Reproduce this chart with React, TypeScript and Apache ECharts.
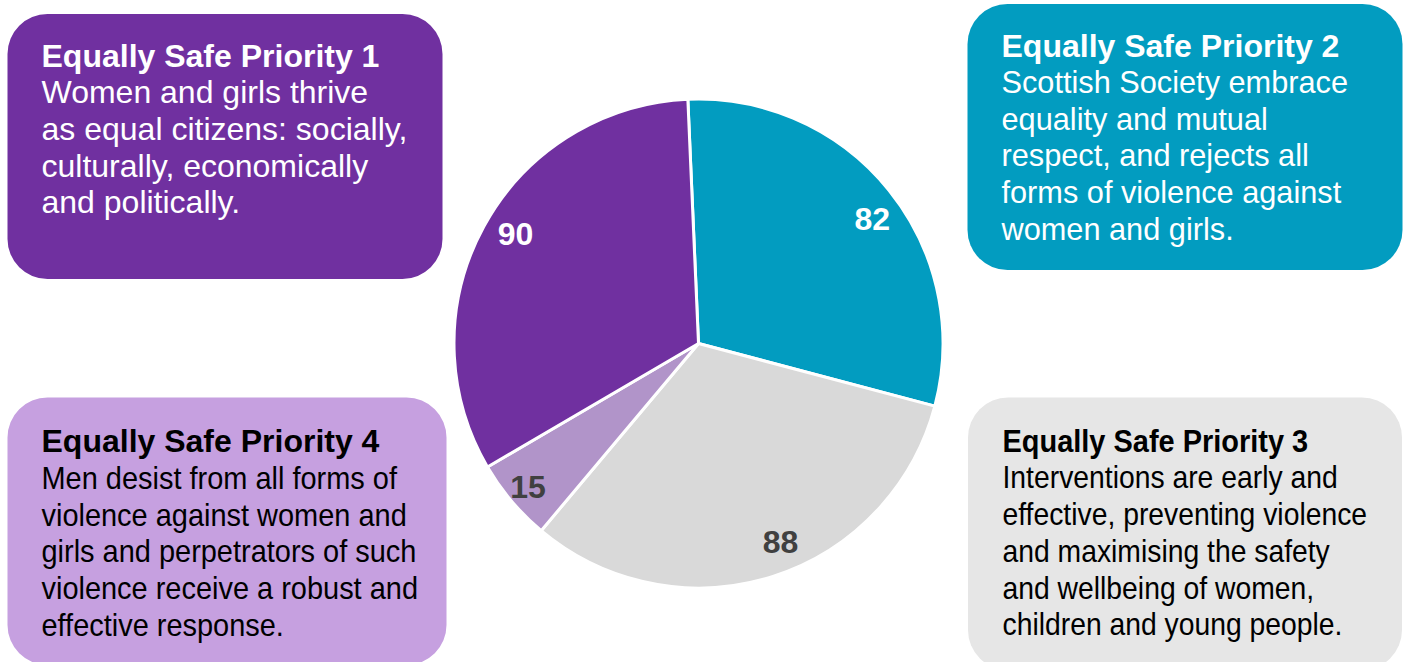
import React, { useEffect, useRef } from "react";
import * as echarts from "echarts";

// ---- Data ----
const categories = [
  "Equally Safe Priority 2",
  "Equally Safe Priority 3",
  "Equally Safe Priority 4",
  "Equally Safe Priority 1",
];
const values = [82, 88, 15, 90];
const sliceColors = ["#029CC0", "#D9D9D9", "#B194C9", "#7030A0"];
const labelColors = ["#FFFFFF", "#404040", "#404040", "#FFFFFF"];
const labelOffsets = [
  [6, 10],
  [17, -7],
  [-6, 5],
  [6, -6],
];

const box1Title = "Equally Safe Priority 1";
const box1Lines = [
  "Women and girls thrive",
  "as equal citizens: socially,",
  "culturally, economically",
  "and politically.",
];
const box2Title = "Equally Safe Priority 2";
const box2Lines = [
  "Scottish Society embrace",
  "equality and mutual",
  "respect, and rejects all",
  "forms of violence against",
  "women and girls.",
];
const box3Title = "Equally Safe Priority 3";
const box3Lines = [
  "Interventions are early and",
  "effective, preventing violence",
  "and maximising the safety",
  "and wellbeing of women,",
  "children and young people.",
];
const box4Title = "Equally Safe Priority 4";
const box4Lines = [
  "Men desist from all forms of",
  "violence against women and",
  "girls and perpetrators of such",
  "violence receive a robust and",
  "effective response.",
];

const FONT = "'Liberation Sans', Arial, sans-serif";
const FS = 32;
const LINE = 36.7;

function boxGraphics(
  rect: { x: number; y: number; w: number; h: number; color: string },
  textX: number,
  titleBaseline: number,
  title: string,
  lines: string[],
  textColor: string,
  titleScale: number,
  bodyScale: number
) {
  const els: any[] = [];
  els.push({
    type: "rect",
    shape: { x: rect.x, y: rect.y, width: rect.w, height: rect.h, r: 40 },
    style: { fill: rect.color },
    silent: true,
  });
  const mid = FS * 0.3465;
  els.push({
    type: "text",
    x: textX,
    y: titleBaseline - mid,
    scaleX: titleScale,
    style: {
      text: title,
      x: 0,
      y: 0,
      fill: textColor,
      font: `bold ${FS}px ${FONT}`,
      align: "left",
      verticalAlign: "middle",
    },
    silent: true,
  });
  lines.forEach((t, i) => {
    els.push({
      type: "text",
      x: textX,
      y: titleBaseline + LINE * (i + 1) - mid,
      scaleX: bodyScale,
      style: {
        text: t,
        x: 0,
        y: 0,
        fill: textColor,
        font: `${FS}px ${FONT}`,
        align: "left",
        verticalAlign: "middle",
      },
      silent: true,
    });
  });
  return els;
}

export default function App() {
  const ref = useRef<HTMLDivElement>(null);

  useEffect(() => {
    if (!ref.current) return;
    const chart = echarts.init(ref.current, undefined, { renderer: "svg" });

    const pieData = categories.map((name, i) => ({
      name,
      value: values[i],
      itemStyle: { color: sliceColors[i] },
    }));
    const labelData = categories.map((name, i) => ({
      name,
      value: values[i],
      label: {
        color: labelColors[i],
        offset: labelOffsets[i],
      },
    }));

    const graphics = [
      ...boxGraphics(
        { x: 7.5, y: 14, w: 435, h: 265, color: "#7030A0" },
        41.5,
        66.7,
        box1Title,
        box1Lines,
        "#FFFFFF",
        1,
        1
      ),
      ...boxGraphics(
        { x: 967.5, y: 4, w: 435, h: 266, color: "#029CC0" },
        1001.5,
        56.7,
        box2Title,
        box2Lines,
        "#FFFFFF",
        1,
        0.96
      ),
      ...boxGraphics(
        { x: 968, y: 397.5, w: 434, h: 272.5, color: "#E6E6E6" },
        1002.5,
        451.7,
        box3Title,
        box3Lines,
        "#000000",
        0.905,
        0.885
      ),
      ...boxGraphics(
        { x: 7.5, y: 397.5, w: 439, h: 267.5, color: "#C6A0E0" },
        41.5,
        451.7,
        box4Title,
        box4Lines,
        "#000000",
        1,
        0.905
      ),
    ];

    chart.setOption({
      animation: false,
      backgroundColor: "#FFFFFF",
      graphic: { elements: graphics },
      series: [
        {
          type: "pie",
          center: [698.5, 343.5],
          radius: [0, 244.5],
          startAngle: 92.5,
          clockwise: true,
          silent: true,
          data: pieData,
          label: { show: false },
          labelLine: { show: false },
          itemStyle: { borderColor: "#FFFFFF", borderWidth: 3 },
          emphasis: { disabled: true },
        },
        {
          type: "pie",
          center: [698.5, 343.5],
          radius: [180, 244.5],
          startAngle: 92.5,
          clockwise: true,
          silent: true,
          data: labelData,
          itemStyle: { color: "rgba(0,0,0,0)", borderWidth: 0 },
          label: {
            show: true,
            position: "inside",
            formatter: "{c}",
            fontFamily: FONT,
            fontSize: 32,
            fontWeight: "bold",
          },
          labelLine: { show: false },
          emphasis: { disabled: true },
        },
      ],
    });

    return () => {
      chart.dispose();
    };
  }, []);

  return (
    <div
      ref={ref}
      style={{ position: "absolute", left: 0, top: 0, width: 1408, height: 662 }}
    />
  );
}
